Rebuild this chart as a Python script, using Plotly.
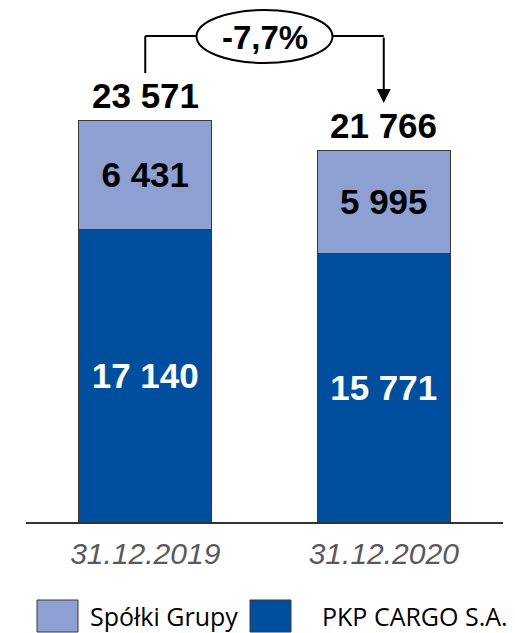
import plotly.graph_objects as go

categories = ["31.12.2019", "31.12.2020"]
pkp_cargo = [17140, 15771]
spolki_grupy = [6431, 5995]
totals = [23571, 21766]
change_label = "-7,7%"
series_names = ["Spółki Grupy", "PKP CARGO S.A."]

COL_LIGHT = "#8E9FD2"
COL_DARK = "#004E9E"
OUTLINE = "#3a3a3a"

def fmt(v):
    return f"{v:,}".replace(",", " ")

OFF = 8  # page body margin
W, H = 507, 625
ML, MR, MT, MB = 18, 12, 0, 111
PH = H - MT - MB

def py(p):  # reference pixel y -> paper y
    return (H - MB - (p - OFF)) / PH

def pxp(p):  # reference pixel x -> paper x
    return (p - OFF - ML) / (W - ML - MR)

VAL_FONT = "Liberation Sans, Arial"

fig = go.Figure()
fig.add_trace(go.Bar(
    x=[0, 1], y=pkp_cargo, name=series_names[1],
    marker=dict(color=COL_DARK, line=dict(color=OUTLINE, width=1)),
    text=[fmt(v) for v in pkp_cargo], textposition="inside",
    insidetextanchor="middle",
    textfont=dict(family=VAL_FONT, size=35, color="white", weight="bold"),
    width=0.556, showlegend=False,
))
fig.add_trace(go.Bar(
    x=[0, 1], y=spolki_grupy, name=series_names[0],
    marker=dict(color=COL_LIGHT, line=dict(color=OUTLINE, width=1)),
    text=[fmt(v) for v in spolki_grupy], textposition="inside",
    insidetextanchor="middle",
    textfont=dict(family=VAL_FONT, size=35, color="black", weight="bold"),
    width=0.556, showlegend=False,
))

annotations = []
for i, t in enumerate(totals):
    annotations.append(dict(
        x=i, y=t, xref="x", yref="y", text=f"<b>{fmt(t)}</b>", showarrow=False,
        yanchor="middle", yshift=25,
        font=dict(family=VAL_FONT, size=35, color="black"),
    ))

# change bubble
annotations.append(dict(
    x=0.5, y=py(37), xref="x", yref="paper", text=f"<b>{change_label}</b>",
    showarrow=False, yanchor="middle",
    font=dict(family=VAL_FONT, size=33, color="black"),
))
# arrow down to second bar
annotations.append(dict(
    x=1, y=py(103), xref="x", yref="paper", ax=0, ay=-67,
    text="", showarrow=True, arrowhead=2, arrowsize=1.4, arrowwidth=2, arrowcolor="black",
    standoff=0,
))

shapes = [
    dict(type="line", xref="x", yref="paper", x0=0, x1=0, y0=py(73), y1=py(36),
         line=dict(color="black", width=2)),
    dict(type="line", xref="x", yref="paper", x0=0, x1=0.215, y0=py(36), y1=py(36),
         line=dict(color="black", width=2)),
    dict(type="line", xref="x", yref="paper", x0=0.785, x1=1, y0=py(36), y1=py(36),
         line=dict(color="black", width=2)),
    dict(type="circle", xref="x", yref="paper", x0=0.215, x1=0.785, y0=py(63), y1=py(10),
         line=dict(color="black", width=2), fillcolor="white"),
]

# custom legend
legend_items = [(series_names[0], COL_LIGHT, 37, 78, 88), (series_names[1], COL_DARK, 250, 291, 320)]
for name, col, x0, x1, tx in legend_items:
    shapes.append(dict(type="rect", xref="paper", yref="paper",
                       x0=pxp(x0), x1=pxp(x1), y0=py(632), y1=py(600),
                       fillcolor=col, line=dict(color=OUTLINE, width=1)))
    annotations.append(dict(x=pxp(tx), y=py(616), xref="paper", yref="paper", text=name,
                            showarrow=False, xanchor="left", yanchor="middle",
                            font=dict(family="Open Sans", size=25, color="black")))

fig.update_layout(
    width=W, height=H, barmode="stack",
    margin=dict(l=ML, r=MR, t=MT, b=MB),
    paper_bgcolor="white", plot_bgcolor="white",
    showlegend=False,
    annotations=annotations, shapes=shapes,
    xaxis=dict(range=[-0.5, 1.5], tickmode="array", tickvals=[0, 1], ticktext=categories,
               showline=True, linecolor="#333333", linewidth=2, showgrid=False, zeroline=False,
               ticks="outside", ticklen=4, tickcolor="rgba(0,0,0,0)",
               tickfont=dict(family=VAL_FONT, size=30, color="#595959", style="italic")),
    yaxis=dict(range=[0, 30138], visible=False, showgrid=False, zeroline=False),
)

fig.write_html("out.html")
